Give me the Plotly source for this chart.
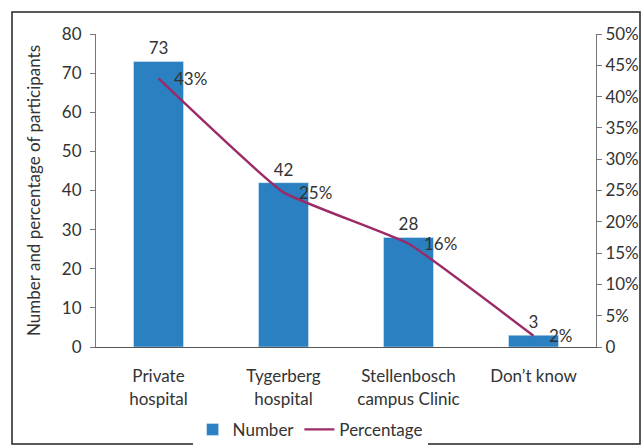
import plotly.graph_objects as go

categories = ["Private<br>hospital", "Tygerberg<br>hospital", "Stellenbosch<br>campus Clinic", "Don\u2019t know"]
numbers = [73, 42, 28, 3]
percentages = [42.9, 24.7, 16.5, 1.8]
pct_labels = ["43%", "25%", "16%", "2%"]
left_ticks = [0, 10, 20, 30, 40, 50, 60, 70, 80]
right_ticks = [0, 5, 10, 15, 20, 25, 30, 35, 40, 45, 50]
right_tick_text = ["0", "5%", "10%", "15%", "20%", "25%", "30%", "35%", "40%", "45%", "50%"]

FONT = "Lato, Open Sans, sans-serif"
TXT = "#333333"
BAR = "#2a80c1"
LINE = "#9b2a66"
FS = 17

fig = go.Figure()
fig.add_trace(go.Bar(
    x=categories, y=numbers, name="Number",
    marker_color=BAR, width=0.4,
    text=[str(v) for v in numbers], textposition="outside",
    textfont=dict(size=FS, color=TXT, family=FONT), cliponaxis=False,
))
fig.add_trace(go.Scatter(
    x=categories, y=percentages, name="Percentage", yaxis="y2",
    mode="lines", line=dict(color=LINE, width=2.4, shape="spline", smoothing=0.35),
))

annotations = [
    dict(x=c, y=p, xref="x", yref="y2", text=t, showarrow=False, xanchor="left", yanchor="middle",
         xshift=13, font=dict(size=FS, color=TXT, family=FONT))
    for c, p, t in zip(categories, percentages, pct_labels)
]

fig.update_layout(
    width=642, height=445, autosize=False,
    margin=dict(l=96, r=46, t=34, b=98, autoexpand=False),
    paper_bgcolor="white", plot_bgcolor="white",
    font=dict(family=FONT, size=FS, color=TXT),
    bargap=0.6,
    showlegend=True,
    annotations=annotations,
    legend=dict(orientation="h", xref="container", yref="container", x=0.483, xanchor="center",
                y=0.034, yanchor="middle", font=dict(size=FS, color=TXT), traceorder="normal"),
    xaxis=dict(showline=True, linecolor="#555555", linewidth=1, ticks="", automargin=False,
               ticklabelstandoff=14, tickfont=dict(size=FS, color=TXT), showgrid=False),
    yaxis=dict(range=[0, 80], tickvals=left_ticks, showline=True, linecolor="#777777", automargin=False,
               ticks="outside", ticklen=5, tickcolor="#777777", showgrid=False, zeroline=False,
               ticklabelstandoff=5, tickfont=dict(size=FS, color=TXT),
               title=dict(text="Number and percentage of participants", font=dict(size=FS, color=TXT), standoff=16)),
    yaxis2=dict(range=[0, 50], overlaying="y", side="right", tickvals=right_ticks, ticktext=right_tick_text,
                showline=True, linecolor="#777777", ticks="outside", ticklen=5, tickcolor="#777777", automargin=False,
                showgrid=False, zeroline=False, tickfont=dict(size=FS, color=TXT)),
    shapes=[dict(type="rect", xref="paper", yref="paper", x0=-0.168, x1=1.088, y0=-0.31, y1=1.07,
                 line=dict(color="#222222", width=1.5))],
)

fig.write_html("out.html", config={"displayModeBar": False, "responsive": False},
               post_script="document.body.style.margin='0';document.body.style.overflow='hidden';")
